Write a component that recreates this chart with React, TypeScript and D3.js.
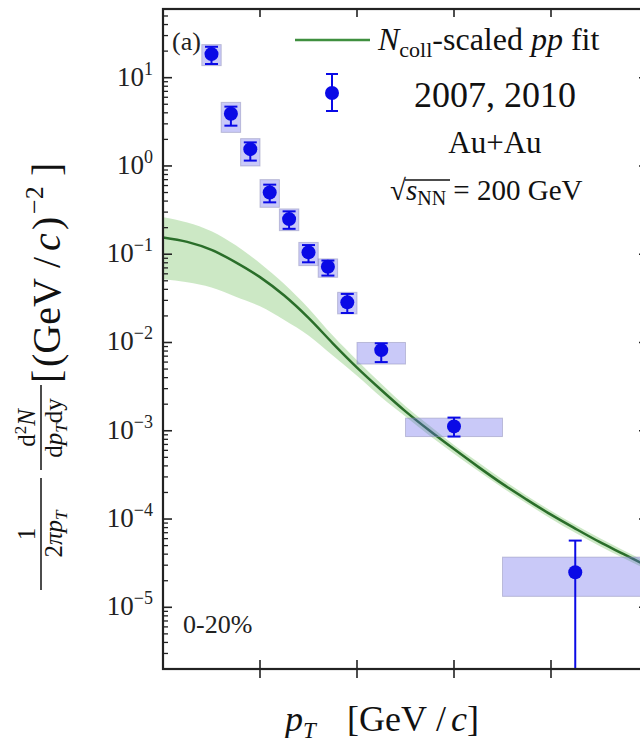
import React from "react";
import * as d3 from "d3";

// measured spectrum, 0-20% Au+Au (pT in GeV/c)
const ptCenter = [0.5, 0.7, 0.9, 1.1, 1.3, 1.5, 1.7, 1.9, 2.25, 3.0, 4.25];
const ptLow = [0.4, 0.6, 0.8, 1.0, 1.2, 1.4, 1.6, 1.8, 2.0, 2.5, 3.5];
const ptHigh = [0.6, 0.8, 1.0, 1.2, 1.4, 1.6, 1.8, 2.0, 2.5, 3.5, 5.0];
const yieldVal = [18.5, 3.9, 1.55, 0.5, 0.25, 0.105, 0.072, 0.0285, 0.0082, 0.00112, 2.5e-5];
const statUp = [22.4, 4.7, 1.85, 0.614, 0.306, 0.127, 0.0848, 0.0355, 0.0098, 0.00141, 5.7e-5];
const statDown = [14.3, 2.86, 1.15, 0.387, 0.194, 0.081, 0.0573, 0.0216, 0.006, 0.00086, 1e-7];
const sysUp = [23.7, 5.25, 2.04, 0.7, 0.326, 0.136, 0.0885, 0.037, 0.01, 0.00139, 3.7e-5];
const sysDown = [13.7, 2.4, 1.0, 0.34, 0.185, 0.0743, 0.0548, 0.0211, 0.0057, 0.00086, 1.33e-5];

// Ncoll-scaled pp fit with its uncertainty band
const fitPt = [0, 0.25, 0.5, 0.75, 1, 1.25, 1.5, 1.75, 2, 2.25, 2.5, 2.75, 3, 3.25, 3.5, 3.75, 4, 4.25, 4.5, 4.75, 5];
const fitVal = [0.155, 0.138, 0.112, 0.081, 0.055, 0.034, 0.019, 0.0098, 0.0052, 0.0029, 0.00166, 0.001, 6.2e-4, 3.9e-4, 2.5e-4, 1.66e-4, 1.12e-4, 7.8e-5, 5.5e-5, 4.0e-5, 2.9e-5];
const fitUp = [0.263, 0.229, 0.182, 0.126, 0.079, 0.046, 0.0245, 0.012, 0.0063, 0.0034, 0.0019, 0.00114, 6.9e-4, 4.4e-4, 2.8e-4, 1.84e-4, 1.24e-4, 8.6e-5, 6.1e-5, 4.4e-5, 3.2e-5];
const fitDown = [0.052, 0.048, 0.042, 0.033, 0.0257, 0.018, 0.012, 0.0071, 0.0042, 0.0024, 0.00145, 8.8e-4, 5.5e-4, 3.5e-4, 2.26e-4, 1.5e-4, 1.01e-4, 7.0e-5, 4.95e-5, 3.6e-5, 2.63e-5];

const yMajor = [1e-5, 1e-4, 1e-3, 1e-2, 1e-1, 1, 10];
const yExpLabels = ["\u22125", "\u22124", "\u22123", "\u22122", "\u22121", "0", "1"];
const xTicks = [1, 2, 3, 4];

const W = 640;
const H = 738;
const L = 163, R = 648, T = 9, B = 669;
const serif = "'Liberation Serif', 'DejaVu Serif', 'Times New Roman', serif";
const blue = "#0a0ae6";

export default function App() {
  const x = d3.scaleLinear().domain([0, 5]).range([L, R]);
  const y = d3.scaleLog().domain([2e-6, 60]).range([B, T]);

  const fit = fitPt.map((p, i) => ({ p, v: fitVal[i], hi: fitUp[i], lo: fitDown[i] }));
  const band = d3
    .area<any>()
    .x((d) => x(d.p))
    .y0((d) => y(d.lo))
    .y1((d) => y(d.hi))
    .curve(d3.curveMonotoneX)(fit);
  const line = d3
    .line<any>()
    .x((d) => x(d.p))
    .y((d) => y(d.v))
    .curve(d3.curveMonotoneX)(fit);

  // log ticks: majors get labels, the rest are minor marks
  const allTicks = y.ticks();
  const isMajor = (v: number) => Math.abs(Math.log10(v) - Math.round(Math.log10(v))) < 1e-6;
  const minor = allTicks.filter((v) => !isMajor(v));

  const pts = ptCenter.map((p, i) => ({
    p, lo: ptLow[i], hi: ptHigh[i], v: yieldVal[i],
    su: statUp[i], sd: statDown[i], yu: sysUp[i], yd: sysDown[i],
  }));

  return (
    <svg
      width={W}
      height={H}
      style={{ position: "absolute", left: 0, top: 0, background: "#fff" }}
      fontFamily={serif}
    >
      <defs>
        <clipPath id="plot">
          <rect x={L} y={T} width={R - L} height={B - T} />
        </clipPath>
      </defs>

      <g clipPath="url(#plot)">
        <path d={band ?? ""} fill="#c6e6bf" opacity={0.9} />
        <path d={line ?? ""} fill="none" stroke="#2a6e2a" strokeWidth={2.5} />

        {/* systematic boxes */}
        {pts.map((d, i) => (
          <rect
            key={"b" + i}
            x={x(d.lo)}
            y={y(d.yu)}
            width={x(d.hi) - x(d.lo)}
            height={y(d.yd) - y(d.yu)}
            fill="#6464eb"
            fillOpacity={0.35}
            stroke="#9090b8"
            strokeOpacity={0.5}
            strokeWidth={1}
          />
        ))}
        {/* statistical errors */}
        {pts.map((d, i) => (
          <g key={"e" + i} stroke={blue} strokeWidth={2}>
            <line x1={x(d.p)} x2={x(d.p)} y1={y(d.su)} y2={y(d.sd)} />
            <line x1={x(d.p) - 6.5} x2={x(d.p) + 6.5} y1={y(d.su)} y2={y(d.su)} />
            <line x1={x(d.p) - 6.5} x2={x(d.p) + 6.5} y1={y(d.sd)} y2={y(d.sd)} />
          </g>
        ))}
        {pts.map((d, i) => (
          <circle key={"c" + i} cx={x(d.p)} cy={y(d.v)} r={7} fill={blue} />
        ))}
      </g>

      {/* frame */}
      <rect x={L} y={T} width={R - L} height={B - T} fill="none" stroke="#222" strokeWidth={2.2} />

      {/* y ticks, left and right */}
      {yMajor.map((v) => (
        <g key={"ym" + v} stroke="#222" strokeWidth={1.6}>
          <line x1={L} x2={L + 9} y1={y(v)} y2={y(v)} />
          <line x1={R} x2={R - 9} y1={y(v)} y2={y(v)} />
        </g>
      ))}
      {minor.map((v) => (
        <g key={"yn" + v} stroke="#222" strokeWidth={1.3}>
          <line x1={L} x2={L + 5} y1={y(v)} y2={y(v)} />
          <line x1={R} x2={R - 5} y1={y(v)} y2={y(v)} />
        </g>
      ))}
      {yMajor.map((v, i) => (
        <text key={"yl" + v} x={153} y={y(v) + 8} textAnchor="end" fontSize={27} fill="#222">
          10
          <tspan fontSize={18} dy={-11}>{yExpLabels[i]}</tspan>
        </text>
      ))}

      {/* x ticks */}
      {xTicks.map((v) => (
        <g key={"xt" + v} stroke="#222" strokeWidth={1.6}>
          <line x1={x(v)} x2={x(v)} y1={B - 9} y2={B + 9} />
          <line x1={x(v)} x2={x(v)} y1={T} y2={T + 8} />
        </g>
      ))}

      {/* x label */}
      <text y={731} fontSize={36} fill="#111">
        <tspan x={285} fontStyle="italic">p</tspan>
        <tspan fontStyle="italic" fontSize={23} dy={7}>T</tspan>
        <tspan x={347} dy={-7}>[GeV</tspan>
        <tspan x={436}>/</tspan>
        <tspan x={451} fontStyle="italic">c</tspan>
        <tspan x={467}>]</tspan>
      </text>

      {/* y label, rotated */}
      <g transform="translate(58,600) rotate(-90)" fill="#111">
        <text x={66} y={-23} textAnchor="middle" fontSize={25}>1</text>
        <line x1={10} x2={122} y1={-17} y2={-17} stroke="#111" strokeWidth={1.5} />
        <text x={66} y={4} textAnchor="middle" fontSize={25}>
          2<tspan fontStyle="italic">πp</tspan>
          <tspan fontStyle="italic" fontSize={17} dy={5}>T</tspan>
        </text>
        <text x={172} y={-23} textAnchor="middle" fontSize={25}>
          d<tspan fontSize={17} dy={-9}>2</tspan>
          <tspan fontStyle="italic" dy={9}>N</tspan>
        </text>
        <line x1={130} x2={215} y1={-17} y2={-17} stroke="#111" strokeWidth={1.5} />
        <text x={172} y={4} textAnchor="middle" fontSize={25}>
          d<tspan fontStyle="italic">p</tspan>
          <tspan fontStyle="italic" fontSize={17} dy={5}>T</tspan>
          <tspan dy={-5}>dy</tspan>
        </text>
        <text y={2} fontSize={40}>
          <tspan x={217}>[</tspan>
          <tspan x={233}>(GeV</tspan>
          <tspan x={332}>/</tspan>
          <tspan x={349} fontStyle="italic">c</tspan>
          <tspan x={370}>)</tspan>
          <tspan x={386} fontSize={26} dy={-17}>{"\u22122"}</tspan>
          <tspan x={424} dy={17}>]</tspan>
        </text>
      </g>

      {/* annotations */}
      <text x={172} y={50} fontSize={26} fill="#222">(a)</text>
      <text x={183} y={633} fontSize={26} fill="#222">0-20%</text>

      {/* legend */}
      <line x1={295} x2={370} y1={40} y2={40} stroke="#3f8f3f" strokeWidth={2.5} />
      <text x={378} y={50} fontSize={32} fill="#111">
        <tspan fontStyle="italic">N</tspan>
        <tspan fontSize={22} dy={7}>coll</tspan>
        <tspan dy={-7}>-scaled </tspan>
        <tspan fontStyle="italic">pp</tspan>
        <tspan> fit</tspan>
      </text>
      <g stroke={blue} strokeWidth={2}>
        <line x1={332} x2={332} y1={74} y2={111} />
        <line x1={326} x2={338} y1={74} y2={74} />
        <line x1={326} x2={338} y1={111} y2={111} />
      </g>
      <circle cx={332} cy={93} r={7} fill={blue} />
      <text x={495} y={107} textAnchor="middle" fontSize={36} fill="#111">2007, 2010</text>
      <text x={495} y={153} textAnchor="middle" fontSize={31} fill="#111">Au+Au</text>
      <text x={390} y={200} fontSize={29} fill="#111">
        √<tspan fontStyle="italic">s</tspan>
        <tspan fontSize={20} dy={5}>NN</tspan>
        <tspan dy={-5}> = 200 GeV</tspan>
      </text>
      <line x1={405} x2={450} y1={180} y2={180} stroke="#111" strokeWidth={1.3} />
    </svg>
  );
}
